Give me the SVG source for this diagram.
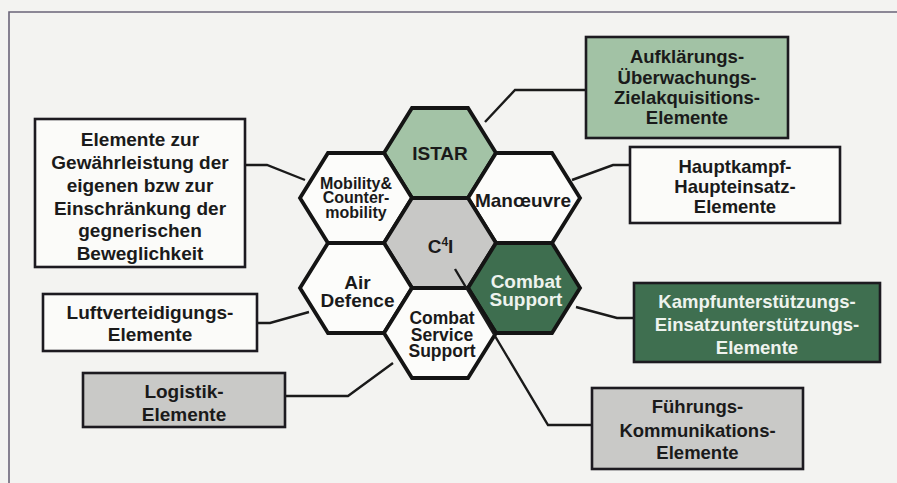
<svg xmlns="http://www.w3.org/2000/svg" width="897" height="483" viewBox="0 0 897 483">
<style>
.hex{stroke:#141414;stroke-width:3.8;stroke-linejoin:miter}
.box{stroke:#1c1a20;stroke-width:2.6}
.conn{fill:none;stroke:#1a1a1a;stroke-width:2.4}
text{font-family:"Liberation Sans",Arial,sans-serif;font-weight:bold;fill:#1a1a1a;text-anchor:middle}
.t19{font-size:19px}
.t18{font-size:18.5px}
.mob{font-size:16px}
.css{font-size:17.5px}
.white{fill:#eef3ee}
</style>
<rect x="0" y="0" width="897" height="483" fill="#f3f3f1"/>
<path d="M9 483 V12 H897" fill="none" stroke="#6a6478" stroke-width="1.6"/>

<g id="hex-istar">
<polygon class="hex" fill="#a3c3a6" points="384,153 412,108 468,108 496,153 468,198 412,198"/>
<text class="t19" x="440" y="160">ISTAR</text>
</g>
<g id="hex-mobility">
<polygon class="hex" fill="#fcfcfa" points="300,198 328,153 384,153 412,198 384,243 328,243"/>
<text class="mob" x="356" y="188.5">Mobility&amp;</text>
<text class="mob" x="356" y="203.3">Counter-</text>
<text class="mob" x="356" y="218">mobility</text>
</g>
<g id="hex-manoeuvre">
<polygon class="hex" fill="#fcfcfa" points="468,198 496,153 552,153 580,198 552,243 496,243"/>
<text class="t19" x="523" y="206.7">Manœuvre</text>
</g>
<g id="hex-c4i">
<polygon class="hex" fill="#c8c8c6" points="384,243 412,198 468,198 496,243 468,288 412,288"/>
<text class="t19" x="440.5" y="252.7">C<tspan style="font-size:12px" dy="-7">4</tspan><tspan dy="7">I</tspan></text>
</g>
<g id="hex-airdefence">
<polygon class="hex" fill="#fcfcfa" points="300,288 328,243 384,243 412,288 384,333 328,333"/>
<text class="t19" x="357.5" y="289.3">Air</text>
<text class="t19" x="357.5" y="306.7">Defence</text>
</g>
<g id="hex-combatsupport">
<polygon class="hex" fill="#3e6e4f" points="468,288 496,243 552,243 580,288 552,333 496,333"/>
<text class="t19 white" x="526" y="288.3">Combat</text>
<text class="t19 white" x="526" y="305.5">Support</text>
</g>
<g id="hex-css">
<polygon class="hex" fill="#fcfcfa" points="384,333 412,288 468,288 496,333 468,378 412,378"/>
<text class="css" x="442" y="324">Combat</text>
<text class="css" x="442" y="340.5">Service</text>
<text class="css" x="442" y="357">Support</text>
</g>

<g id="connectors">
<polyline class="conn" points="485,122 515,90 586,90"/>
<polyline class="conn" points="572,180 613,165 630,165"/>
<polyline class="conn" points="245,165 267,165 305,180"/>
<polyline class="conn" points="257,323 270,323 309,312"/>
<polyline class="conn" points="285,396 348,396 393,363"/>
<polyline class="conn" points="576,307 617,318 634,318"/>
<polyline class="conn" points="455,269 548,425 592,425"/>
</g>

<g id="box-aufklaerung">
<rect class="box" x="586" y="37" width="202" height="101" fill="#a2c2a5"/>
<text class="t18" x="687" y="63.3">Aufklärungs-</text>
<text class="t18" x="687" y="84.3">Überwachungs-</text>
<text class="t18" x="687" y="104.3">Zielakquisitions-</text>
<text class="t18" x="687" y="124.3">Elemente</text>
</g>
<g id="box-hauptkampf">
<rect class="box" x="630" y="147" width="210" height="76" fill="#fbfbf9"/>
<text class="t18" x="735" y="173.3">Hauptkampf-</text>
<text class="t18" x="735" y="193.3">Haupteinsatz-</text>
<text class="t18" x="735" y="213.3">Elemente</text>
</g>
<g id="box-mobility">
<rect class="box" x="35" y="119" width="210" height="148" fill="#fbfbf9"/>
<text class="t19" x="140" y="146">Elemente zur</text>
<text class="t19" x="140" y="168.5">Gewährleistung der</text>
<text class="t19" x="140" y="191.5">eigenen bzw zur</text>
<text class="t19" x="140" y="214.5">Einschränkung der</text>
<text class="t19" x="140" y="237">gegnerischen</text>
<text class="t19" x="140" y="259.5">Beweglichkeit</text>
</g>
<g id="box-luft">
<rect class="box" x="43" y="294" width="214" height="57" fill="#fbfbf9"/>
<text class="t19" x="150" y="319">Luftverteidigungs-</text>
<text class="t19" x="150" y="341">Elemente</text>
</g>
<g id="box-logistik">
<rect class="box" x="83" y="373" width="202" height="54" fill="#c9c9c7"/>
<text class="t19" x="184" y="398.3">Logistik-</text>
<text class="t19" x="184" y="421">Elemente</text>
</g>
<g id="box-kampf">
<rect class="box" x="634" y="283" width="246" height="79" fill="#3f6f50"/>
<text class="t18 white" x="757" y="307.7">Kampfunterstützungs-</text>
<text class="t18 white" x="757" y="331">Einsatzunterstützungs-</text>
<text class="t18 white" x="757" y="354">Elemente</text>
</g>
<g id="box-fuehrung">
<rect class="box" x="592" y="388" width="211" height="81" fill="#c9c9c7"/>
<text class="t18" x="697.5" y="413.3">Führungs-</text>
<text class="t18" x="697.5" y="436.5">Kommunikations-</text>
<text class="t18" x="697.5" y="458.5">Elemente</text>
</g>
</svg>
